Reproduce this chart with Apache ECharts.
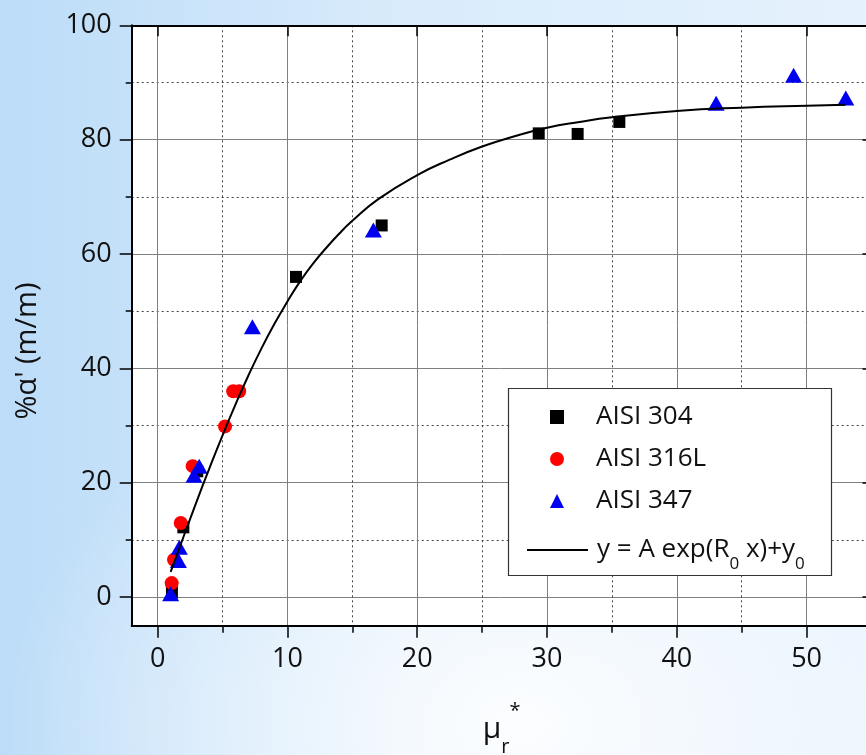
<!DOCTYPE html>
<html>
<head>
<meta charset="utf-8">
<title>Martensite fraction vs relative permeability</title>
<script src="https://cdn.jsdelivr.net/npm/echarts@6/dist/echarts.min.js"></script>
<style>
  html, body { margin: 0; padding: 0; }
  body {
    width: 866px; height: 755px; overflow: hidden;
    background:
      radial-gradient(ellipse 60% 50% at 60% 96%, rgba(255,255,255,0.92), rgba(255,255,255,0) 100%),
      linear-gradient(to right, #bcdcf8 0%, #d8ebfb 45%, #e6f2fd 100%);
  }
  #chart { width: 866px; height: 755px; }
</style>
</head>
<body>
<div id="chart"></div>
<script>
// Axis ticks
const xMajorTicks = [0, 10, 20, 30, 40, 50];
const xMinorTicks = [5, 15, 25, 35, 45];
const yMajorTicks = [0, 20, 40, 60, 80, 100];
const yMinorTicks = [10, 30, 50, 70, 90];

// AISI 304 measurements
const aisi304X = [1.1, 1.98, 3.05, 10.66, 17.26, 29.36, 32.36, 35.57];
const aisi304Y = [0.8, 12.2, 22.0, 56.0, 65.0, 81.1, 81.0, 83.1];

// AISI 316L measurements
const aisi316X = [1.08, 1.26, 1.78, 2.7, 5.19, 5.82, 6.28];
const aisi316Y = [2.45, 6.54, 12.95, 22.9, 29.85, 36.0, 36.0];

// AISI 347 measurements
const aisi347X = [1.0, 1.6, 1.67, 2.8, 3.2, 7.3, 16.62, 43.03, 49.0, 53.02];
const aisi347Y = [0.6, 6.4, 8.7, 21.3, 22.9, 47.3, 64.2, 86.36, 91.25, 87.3];

// Exponential fit curve
const fitX = [1, 2, 3, 4, 5, 6, 7, 8, 9, 10, 11, 12, 13, 14, 15, 17, 20, 22.5, 25, 27.5, 30, 32.5, 35, 40, 45, 50, 53];
const fitY = [4.4, 10.6, 16.7, 22.6, 28.3, 33.7, 38.8, 43.5, 47.8, 51.7, 55.3, 58.4, 61.1, 63.6, 65.8, 69.6, 73.8, 76.5, 78.8, 80.6, 82.1, 83.1, 83.9, 85.0, 85.6, 85.95, 86.1];

const NAME_304 = 'AISI 304';
const NAME_316 = 'AISI 316L';
const NAME_347 = 'AISI 347';
const NAME_FIT = 'y = A exp(R0 x)+y0';

const FONT = '"Open Sans", "Noto Sans", sans-serif';
const TEXT = '#111';

const zip = (xs, ys) => xs.map((x, i) => [x, ys[i]]);

const X_MIN = -2, X_MAX = 55, Y_MIN = -5, Y_MAX = 100;

const majorGrid = { show: true, lineStyle: { color: '#808080', width: 1 } };
const minorGrid = { show: true, lineStyle: { color: '#444', width: 1, type: [2, 3] } };
const tickStyle = { color: '#000', width: 1.5 };

const legendText = {
  fontFamily: FONT, fontSize: 26, lineHeight: 30, color: TEXT
};

const chart = echarts.init(document.getElementById('chart'), null, { renderer: 'canvas' });

chart.setOption({
  animation: false,
  backgroundColor: 'transparent',
  grid: {
    left: 131.7, top: 25.3, right: -5.5, bottom: 129.3,
    show: true, backgroundColor: '#fff', borderWidth: 0,
    containLabel: false, outerBoundsMode: 'none'
  },
  // legend frame
  graphic: [{
    type: 'rect', z: 3, silent: true,
    shape: { x: 508.5, y: 388.5, width: 323, height: 187 },
    style: { fill: '#fff', stroke: '#333', lineWidth: 1.2 }
  }],
  legend: [
    {
      data: [NAME_304, NAME_316, NAME_347],
      orient: 'vertical', left: 550, top: 402, padding: 0,
      itemWidth: 14, itemHeight: 14, itemGap: 12,
      selectedMode: false, z: 4,
      textStyle: Object.assign({}, legendText, { padding: [0, 0, 0, 27] })
    },
    {
      data: [{ name: NAME_FIT, icon: 'rect' }],
      orient: 'vertical', left: 527, top: 527, padding: 0,
      itemWidth: 61, itemHeight: 2,
      selectedMode: false, z: 4,
      formatter: () => '{t|y = A exp(R}{s|0}{t| x)+y}{s|0}',
      textStyle: Object.assign({}, legendText, {
        padding: [0, 0, 0, 4],
        rich: {
          t: { fontFamily: FONT, fontSize: 26, lineHeight: 46, color: TEXT },
          s: { fontFamily: FONT, fontSize: 17, lineHeight: 28, verticalAlign: 'bottom', color: TEXT }
        }
      })
    }
  ],
  xAxis: [
    {
      type: 'value', position: 'bottom', min: X_MIN, max: X_MAX,
      axisLine: { show: true, onZero: false, lineStyle: { color: '#000', width: 2 } },
      axisTick: { show: true, inside: false, length: 12, customValues: xMajorTicks, lineStyle: tickStyle },
      axisLabel: { customValues: xMajorTicks, margin: 20, fontSize: 27, fontFamily: FONT, color: TEXT },
      splitLine: majorGrid,
      name: '{m|μ}{r|r}{s|*}',
      nameLocation: 'middle', nameGap: 76,
      nameTextStyle: {
        fontFamily: FONT, color: TEXT,
        rich: {
          m: { fontFamily: FONT, fontSize: 30, lineHeight: 56, color: TEXT },
          r: { fontFamily: FONT, fontSize: 20, lineHeight: 23, verticalAlign: 'bottom', color: TEXT },
          s: { fontFamily: FONT, fontSize: 20, lineHeight: 16, verticalAlign: 'top', color: TEXT }
        }
      }
    },
    {
      type: 'value', position: 'bottom', min: X_MIN, max: X_MAX,
      axisLine: { show: false, onZero: false },
      axisTick: { show: true, inside: false, length: 7, customValues: xMinorTicks, lineStyle: tickStyle },
      axisLabel: { show: false, customValues: xMinorTicks },
      splitLine: minorGrid
    },
    {
      type: 'value', position: 'top', min: X_MIN, max: X_MAX,
      axisLine: { show: true, onZero: false, lineStyle: { color: '#000', width: 2 } },
      axisTick: { show: true, inside: true, length: 11, customValues: xMajorTicks, lineStyle: tickStyle },
      axisLabel: { show: false, customValues: xMajorTicks },
      splitLine: { show: false }
    }
  ],
  yAxis: [
    {
      type: 'value', position: 'left', min: Y_MIN, max: Y_MAX,
      axisLine: { show: true, onZero: false, lineStyle: { color: '#000', width: 2 } },
      axisTick: { show: true, inside: false, length: 12, customValues: yMajorTicks, lineStyle: tickStyle },
      axisLabel: { customValues: yMajorTicks, margin: 20, fontSize: 27, fontFamily: FONT, color: TEXT },
      splitLine: majorGrid,
      name: "%α' (m/m)",
      nameLocation: 'middle', nameGap: 89,
      nameTextStyle: { fontFamily: FONT, fontSize: 29, color: TEXT, padding: [0, 51, 0, 0] }
    },
    {
      type: 'value', position: 'left', min: Y_MIN, max: Y_MAX,
      axisLine: { show: false, onZero: false },
      axisTick: { show: true, inside: false, length: 6, customValues: yMinorTicks, lineStyle: tickStyle },
      axisLabel: { show: false, customValues: yMinorTicks },
      splitLine: minorGrid
    },
    {
      type: 'value', position: 'right', min: Y_MIN, max: Y_MAX,
      axisLine: { show: true, onZero: false, lineStyle: { color: '#000', width: 2 } },
      axisTick: { show: true, inside: true, length: 9, customValues: yMajorTicks, lineStyle: tickStyle },
      axisLabel: { show: false, customValues: yMajorTicks },
      splitLine: { show: false }
    }
  ],
  series: [
    {
      name: NAME_304, type: 'scatter', xAxisIndex: 0, yAxisIndex: 0,
      symbol: 'rect', symbolSize: 12,
      itemStyle: { color: '#000', opacity: 1 },
      emphasis: { disabled: true },
      data: zip(aisi304X, aisi304Y)
    },
    {
      name: NAME_316, type: 'scatter', xAxisIndex: 0, yAxisIndex: 0,
      symbol: 'circle', symbolSize: 14,
      itemStyle: { color: '#ff0000', opacity: 1 },
      emphasis: { disabled: true },
      data: zip(aisi316X, aisi316Y)
    },
    {
      name: NAME_347, type: 'scatter', xAxisIndex: 0, yAxisIndex: 0,
      symbol: 'triangle', symbolSize: [17, 15],
      itemStyle: { color: '#0000f0', opacity: 1 },
      emphasis: { disabled: true },
      data: zip(aisi347X, aisi347Y)
    },
    {
      name: NAME_FIT, type: 'line', xAxisIndex: 0, yAxisIndex: 0,
      smooth: true, symbol: 'none', showSymbol: false,
      lineStyle: { color: '#000', width: 2 },
      itemStyle: { color: '#000' },
      emphasis: { disabled: true },
      data: zip(fitX, fitY)
    }
  ]
});
</script>
</body>
</html>
